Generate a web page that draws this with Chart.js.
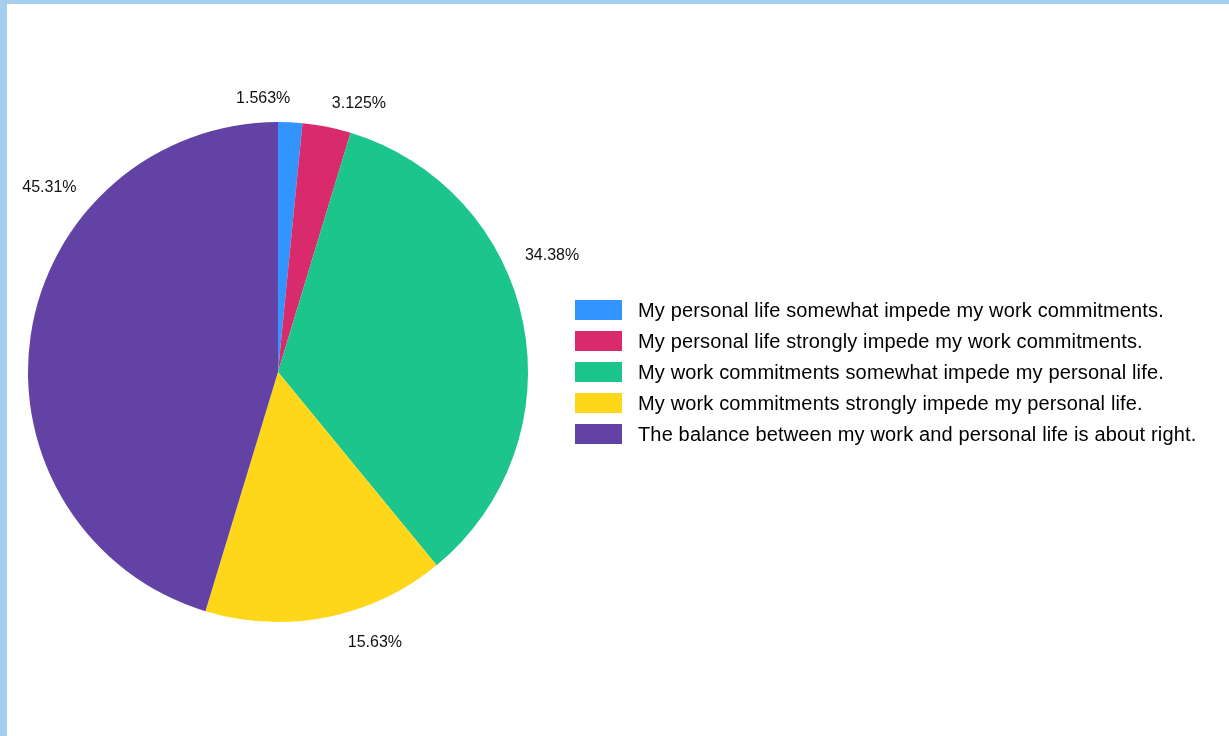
<!DOCTYPE html>
<html>
<head>
<meta charset="utf-8">
<script src="https://cdn.jsdelivr.net/npm/chart.js@4"></script>
<style>
    html, body { margin: 0; padding: 0; background: #fff; }
    body {
        width: 1222px;
        height: 732px;
        border-left: 7px solid #a6cfef;
        border-top: 4px solid #a6cfef;
        position: relative;
        overflow: hidden;
        font-family: "Liberation Sans", Arial, Helvetica, sans-serif;
    }
    #pie_box { position: absolute; left: 0; top: 0; width: 600px; height: 732px; }
    #pie_legend { position: absolute; left: 568px; top: 296px; margin: 0; padding: 0; list-style: none; }
    #pie_legend li { height: 20px; margin-bottom: 11px; display: flex; align-items: center; white-space: nowrap; }
    #pie_legend .swatch { width: 47px; height: 20px; margin-right: 16px; flex: none; }
    #pie_legend .txt { font-size: 20px; letter-spacing: 0.15px; color: #000; }
</style>
</head>
<body>
<div id="pie_box"><canvas id="balance_pie_chart"></canvas></div>
<ul id="pie_legend"></ul>

<script>
// answers (count of respondents)
const answer_labels = [
    'My personal life somewhat impede my work commitments.',
    'My personal life strongly impede my work commitments.',
    'My work commitments somewhat impede my personal life.',
    'My work commitments strongly impede my personal life.',
    'The balance between my work and personal life is about right.'
];
const answer_counts = [1, 2, 22, 10, 29];
const percent_labels = ['1.563%', '3.125%', '34.38%', '15.63%', '45.31%'];
const slice_colors = ['#3393ff', '#d92b6b', '#1cc58b', '#ffd71a', '#6242a4'];

// draws the % text outside each slice
const outsideLabels = {
    id: 'outsideLabels',
    afterDatasetsDraw(chart, args, opts) {
        const ctx = chart.ctx;
        const meta = chart.getDatasetMeta(0);
        ctx.save();
        ctx.font = opts.font;
        ctx.fillStyle = opts.color;
        meta.data.forEach((arc, i) => {
            const p = arc.getProps(['x', 'y', 'startAngle', 'endAngle', 'outerRadius'], true);
            // canvas angle (0 = 3 o'clock), nudged a bit so the texts don't crowd
            const ang = (p.startAngle + p.endAngle) / 2 + (opts.nudge[i] || 0) * Math.PI / 180;
            const r = p.outerRadius + opts.gap + (opts.push[i] || 0);
            const x = p.x + Math.cos(ang) * r;
            const y = p.y + Math.sin(ang) * r;
            const c = Math.cos(ang);
            if (Math.abs(c) < 0.4) {
                ctx.textAlign = 'center';
                ctx.textBaseline = Math.sin(ang) < 0 ? 'bottom' : 'top';
            } else {
                ctx.textAlign = c > 0 ? 'left' : 'right';
                ctx.textBaseline = 'middle';
            }
            ctx.fillText(percent_labels[i], x, y);
        });
        ctx.restore();
    }
};

function fnBalancePie() {
    const config = {
        type: 'pie',
        data: {
            labels: answer_labels,
            datasets: [{
                data: answer_counts,
                backgroundColor: slice_colors,
                borderWidth: 0
            }]
        },
        options: {
            responsive: true,
            maintainAspectRatio: false,
            animation: false,
            layout: {
                padding: { left: 21, right: 79, top: 118, bottom: 114 }
            },
            plugins: {
                legend: { display: false },
                tooltip: { enabled: false },
                outsideLabels: {
                    font: '16px "Liberation Sans", Arial, sans-serif',
                    color: '#111',
                    gap: 23,
                    nudge: [-6, 6, -14, -9, 34],
                    push: [-7, 0, 0, 7, 0]
                }
            }
        },
        plugins: [outsideLabels]
    };

    new Chart(document.getElementById('balance_pie_chart'), config);

    // html legend
    const ul = document.getElementById('pie_legend');
    answer_labels.forEach((label, i) => {
        const li = document.createElement('li');
        li.innerHTML = '<span class="swatch" style="background:' + slice_colors[i] + '"></span>' +
            '<span class="txt">' + label + '</span>';
        ul.appendChild(li);
    });
}

fnBalancePie();
</script>
</body>
</html>
